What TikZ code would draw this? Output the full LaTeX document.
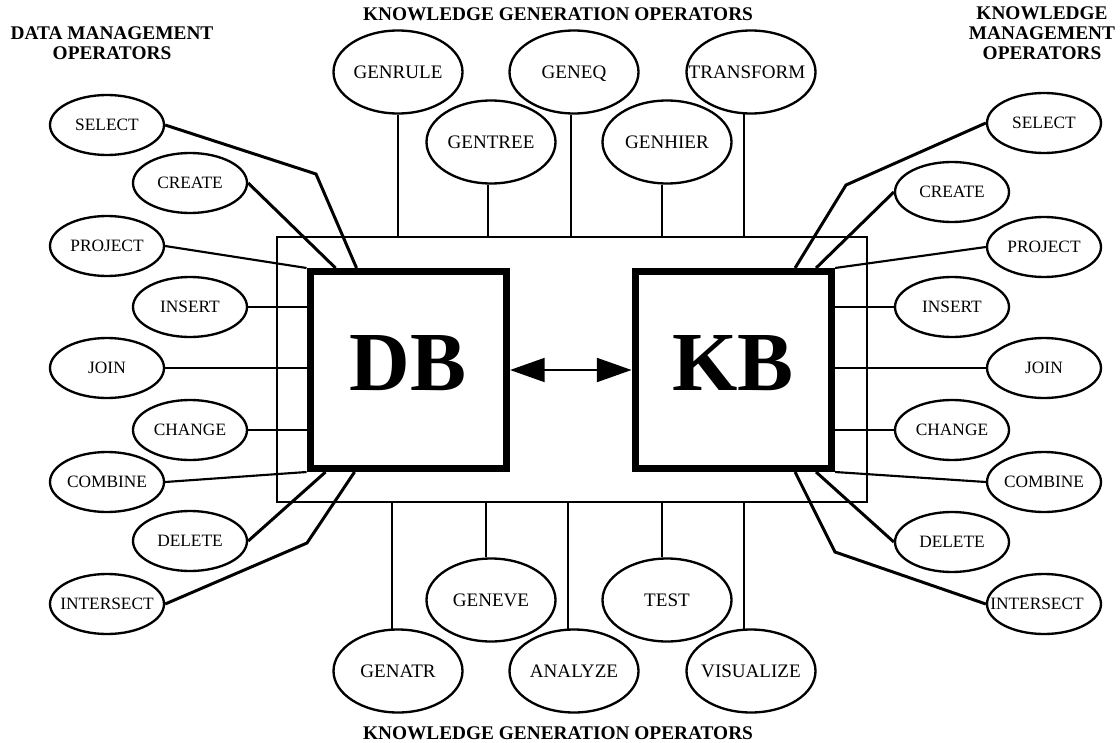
\documentclass[tikz,border=0pt]{standalone}
\usepackage{fontspec}
\setmainfont{Liberation Serif}
\usetikzlibrary{shapes.geometric,arrows.meta,calc}
\newcommand{\fixw}[1]{\makebox[0pt]{#1}}
\begin{document}
\begin{tikzpicture}[x=0.75pt,y=-0.75pt,
  mgmt/.style={ellipse,draw,fill=white,line width=1.75pt,minimum width=85.5pt,minimum height=45pt,inner sep=0pt,text depth=0pt,font=\fontsize{13}{13}\selectfont},
  gen/.style={ellipse,draw,fill=white,line width=1.75pt,minimum width=96.75pt,minimum height=62.25pt,inner sep=0pt,text depth=0pt,font=\fontsize{14.3}{14.3}\selectfont},
  title/.style={inner sep=0pt,align=center,font=\fontsize{14.5}{15}\selectfont\bfseries},
  basebox/.style={draw,fill=white,line width=5.25pt,minimum width=147.4pt,minimum height=147.75pt,inner sep=0pt,text depth=10.5pt,font=\fontsize{63}{63}\selectfont\bfseries},
  genline/.style={line width=1.5pt},
  hline/.style={line width=1.6pt},
  mline/.style={line width=2.25pt,line join=miter},
  both/.style={line width=1.5pt,{Triangle[length=26pt,width=18pt]}-{Triangle[length=26pt,width=18pt]}}
]
\useasboundingbox (0,0) rectangle (1120,742);

% titles
\node[title] (ttop) at (558,14) {KNOWLEDGE GENERATION OPERATORS};
\node[title] (tbot) at (558,733) {KNOWLEDGE GENERATION OPERATORS};
\node[title] (tdm) at (112,43) {DATA MANAGEMENT\\OPERATORS};
\node[title] (tkm) at (1042,33) {KNOWLEDGE\\MANAGEMENT\\OPERATORS};

% frame
\node[draw,line width=1.5pt,minimum width=442.5pt,minimum height=198.75pt,inner sep=0pt,outer sep=0pt] (frame) at (572,369.5) {};

% generation operators (top)
\node[gen] (genrule) at (398,72) {\fixw{GENRULE}};
\node[gen] (gentree) at (491,142) {\fixw{GENTREE}};
\node[gen] (geneq) at (574,72) {\fixw{GENEQ}};
\node[gen] (genhier) at (667,142) {\fixw{GENHIER}};
\node[gen] (transform) at (751,72) {\fixw{TRANSFORM\hspace{6pt}}};
% generation operators (bottom)
\node[gen] (genatr) at (398,671) {\fixw{GENATR}};
\node[gen] (geneve) at (491,600) {\fixw{GENEVE}};
\node[gen] (analyze) at (574,671) {\fixw{ANALYZE}};
\node[gen] (test) at (667,600) {\fixw{TEST}};
\node[gen] (visualize) at (751,671) {\fixw{VISUALIZE}};

\draw[genline] (genrule.south) -- (genrule.south |- frame.north);
\draw[genline] (gentree.-94) -- (gentree.-94 |- frame.north);
\draw[genline] (geneq.-94) -- (geneq.-94 |- frame.north);
\draw[genline] (genhier.-97) -- (genhier.-97 |- frame.north);
\draw[genline] (transform.-100) -- (transform.-100 |- frame.north);
\draw[genline] (genatr.98) -- (genatr.98 |- frame.south);
\draw[genline] (geneve.97) -- (geneve.97 |- frame.south);
\draw[genline] (analyze.98) -- (analyze.98 |- frame.south);
\draw[genline] (test.97) -- (test.97 |- frame.south);
\draw[genline] (visualize.100) -- (visualize.100 |- frame.south);

% DB and KB
\node[basebox] (db) at (408.3,370) {DB};
\node[basebox] (kb) at (733.3,370) {KB};
\draw[both] (db.east) -- (kb.west);

% data management operators (left)
\node[mgmt] (lselect) at (107,125) {\fixw{SELECT}};
\node[mgmt] (lcreate) at (190,183) {\fixw{CREATE}};
\node[mgmt] (lproject) at (107,246) {\fixw{PROJECT}};
\node[mgmt] (linsert) at (190,307) {\fixw{INSERT}};
\node[mgmt] (ljoin) at (107,368) {\fixw{JOIN}};
\node[mgmt] (lchange) at (190,430) {\fixw{CHANGE}};
\node[mgmt] (lcombine) at (107,482) {\fixw{COMBINE}};
\node[mgmt] (ldelete) at (190,541) {\fixw{DELETE}};
\node[mgmt] (lintersect) at (107,604) {\fixw{INTERSECT}};

\draw[mline] (lselect.east) -- (316,174) -- ($(db.north west)+(50,0)$);
\draw[mline] (lcreate.east) -- ($(db.north west)+(29,0)$);
\draw[hline] (lproject.east) -- (db.north west);
\draw[hline] (linsert.east) -- (linsert.east -| db.west);
\draw[hline] (ljoin.east) -- (ljoin.east -| db.west);
\draw[hline] (lchange.east) -- (lchange.east -| db.west);
\draw[hline] (lcombine.east) -- (db.south west);
\draw[mline] (ldelete.east) -- ($(db.south west)+(19,0)$);
\draw[mline] (lintersect.east) -- (307,543) -- ($(db.south west)+(48,0)$);

% knowledge management operators (right)
\node[mgmt] (rselect) at (1044,123) {\fixw{SELECT}};
\node[mgmt] (rcreate) at (952,192) {\fixw{CREATE}};
\node[mgmt] (rproject) at (1044,247) {\fixw{PROJECT}};
\node[mgmt] (rinsert) at (952,307) {\fixw{INSERT}};
\node[mgmt] (rjoin) at (1044,368) {\fixw{JOIN}};
\node[mgmt] (rchange) at (952,430) {\fixw{CHANGE}};
\node[mgmt] (rcombine) at (1044,482) {\fixw{COMBINE}};
\node[mgmt] (rdelete) at (952,542) {\fixw{DELETE}};
\node[mgmt] (rintersect) at (1044,604) {\fixw{INTERSECT\hspace{10.5pt}}};

\draw[mline] (rselect.west) -- (846,185) -- ($(kb.north east)+(-40,0)$);
\draw[mline] (rcreate.west) -- ($(kb.north east)+(-19,0)$);
\draw[hline] (rproject.west) -- (kb.north east);
\draw[hline] (rinsert.west) -- (rinsert.west -| kb.east);
\draw[hline] (rjoin.west) -- (rjoin.west -| kb.east);
\draw[hline] (rchange.west) -- (rchange.west -| kb.east);
\draw[hline] (rcombine.west) -- (kb.south east);
\draw[mline] (rdelete.west) -- ($(kb.south east)+(-19,0)$);
\draw[mline] (rintersect.west) -- (835,552) -- ($(kb.south east)+(-40,0)$);
\end{tikzpicture}
\end{document}
